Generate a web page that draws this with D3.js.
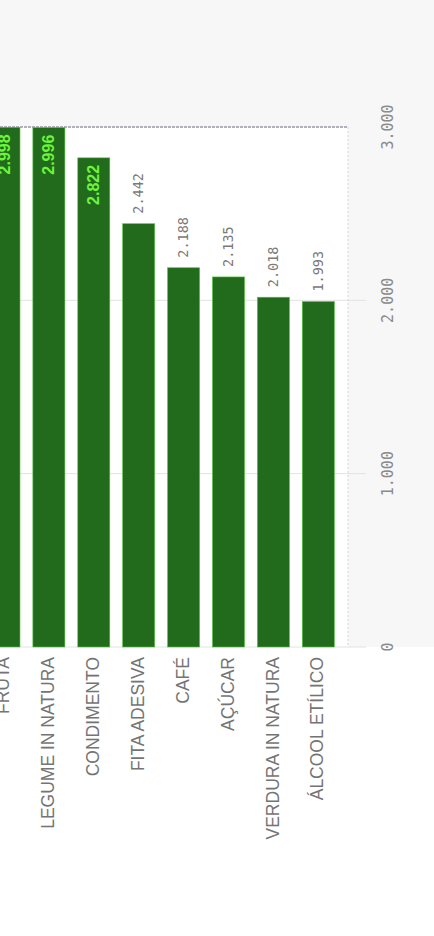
<!DOCTYPE html>
<html>
<head>
<meta charset="utf-8">
<script src="https://cdn.jsdelivr.net/npm/d3@7"></script>
<style>
  html, body { margin: 0; padding: 0; background: #f9f9f9; }
  svg { display: block; }
</style>
</head>
<body>
<svg id="chart" width="434" height="936"></svg>
<script>
const categories = ["FRUTA", "LEGUME IN NATURA", "CONDIMENTO", "FITA ADESIVA", "CAFÉ", "AÇÚCAR", "VERDURA IN NATURA", "ÁLCOOL ETÍLICO"];
const values = [2998, 2996, 2822, 2442, 2188, 2135, 2018, 1993];
const tickValues = [0, 1000, 2000, 3000];
const tickLabels = ["0", "1.000", "2.000", "3.000"];

const W = 434, H = 936;
const plotLeft = 0, plotRight = 348, plotTop = 127, plotBottom = 647;

const svg = d3.select("#chart");

const locale = d3.formatLocale({ decimal: ",", thousands: ".", grouping: [3], currency: ["", ""] });
const fmt = locale.format(",d");

const x = d3.scaleBand()
  .domain(categories)
  .range([-25.5, 347.8])
  .paddingInner(0.287)
  .paddingOuter(0.3);

const y = d3.scaleLinear()
  .domain([0, 3000])
  .range([plotBottom, plotTop]);

// backgrounds
svg.append("rect").attr("x", 0).attr("y", 0).attr("width", W).attr("height", H).attr("fill", "#f7f7f7");
svg.append("rect").attr("x", 0).attr("y", plotTop).attr("width", plotRight).attr("height", H - plotTop).attr("fill", "#ffffff");
svg.append("rect").attr("x", 0).attr("y", plotBottom).attr("width", W).attr("height", H - plotBottom).attr("fill", "#ffffff");

// gridlines
svg.append("g").selectAll("line")
  .data(tickValues)
  .join("line")
  .attr("x1", plotLeft)
  .attr("x2", d => d === 3000 ? plotRight : 366)
  .attr("y1", d => y(d))
  .attr("y2", d => y(d))
  .attr("stroke", d => d === 3000 ? "#9a9aa6" : "#e2e2e2")
  .attr("stroke-width", d => d === 3000 ? 1.3 : 1)
  .attr("stroke-dasharray", d => d === 3000 ? "3,1" : null);

svg.append("line")
  .attr("x1", plotRight).attr("x2", plotRight)
  .attr("y1", plotTop).attr("y2", plotBottom)
  .attr("stroke", "#d6d6d6").attr("stroke-dasharray", "2,2");

// value axis tick labels (right side, rotated)
svg.append("g").selectAll("text")
  .data(tickValues)
  .join("text")
  .attr("transform", d => `translate(388,${y(d)}) rotate(-90)`)
  .attr("text-anchor", "middle")
  .attr("dy", "0.35em")
  .attr("font-family", "DejaVu Sans Mono, monospace")
  .attr("font-size", 15)
  .attr("fill", "#8a8a8a")
  .text((d, i) => tickLabels[i]);

// bars
svg.append("g").selectAll("rect")
  .data(values)
  .join("rect")
  .attr("x", (d, i) => x(categories[i]))
  .attr("width", x.bandwidth())
  .attr("y", d => y(d))
  .attr("height", d => y(0) - y(d))
  .attr("fill", "#236b1c")
  .attr("stroke", "#4fc43a")
  .attr("stroke-width", 0.6);

// value labels
const inside = d => d > 2600;
svg.append("g").selectAll("text")
  .data(values)
  .join("text")
  .attr("transform", (d, i) => {
    const cx = x(categories[i]) + x.bandwidth() / 2;
    const yy = inside(d) ? y(d) + 7 : y(d) - 10;
    return `translate(${cx},${yy}) rotate(-90)`;
  })
  .attr("text-anchor", d => inside(d) ? "end" : "start")
  .attr("dy", "0.35em")
  .attr("font-family", d => inside(d) ? "Liberation Sans, Arial, sans-serif" : "DejaVu Sans Mono, monospace")
  .attr("font-weight", d => inside(d) ? "bold" : "normal")
  .attr("font-size", d => inside(d) ? 16 : 13.5)
  .attr("fill", d => inside(d) ? "#6cf53c" : "#7a7a7a")
  .text(d => fmt(d));

// category labels
svg.append("g").selectAll("text")
  .data(categories)
  .join("text")
  .attr("transform", d => `translate(${x(d) + x.bandwidth() / 2 - 1},${plotBottom + 10}) rotate(-90)`)
  .attr("text-anchor", "end")
  .attr("dy", "0.35em")
  .attr("font-family", "Liberation Sans, Arial, sans-serif")
  .attr("font-size", 17.5)
  .attr("fill", "#747474")
  .text(d => d);
</script>
</body>
</html>
